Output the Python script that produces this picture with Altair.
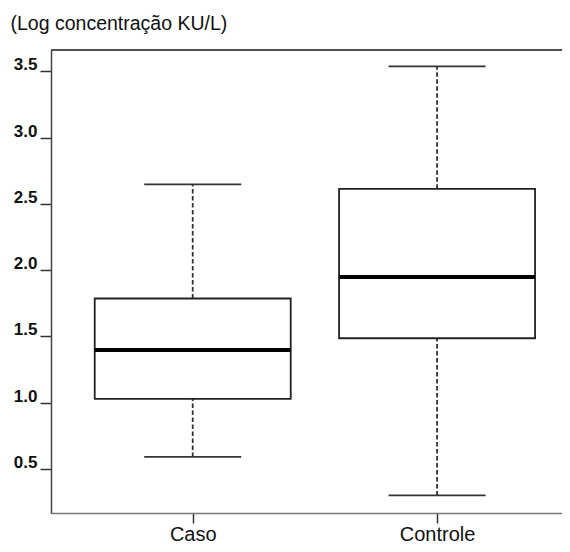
import altair as alt
import pandas as pd

groups = ["Caso", "Controle"]
lower = [0.59, 0.30]
q1 = [1.028, 1.486]
median = [1.398, 1.949]
q3 = [1.786, 2.614]
upper = [2.647, 3.538]
y_ticks = [0.5, 1.0, 1.5, 2.0, 2.5, 3.0, 3.5]

df = pd.DataFrame({"grupo": groups, "lower": lower, "q1": q1,
                   "median": median, "q3": q3, "upper": upper})

W = 519
H = 463

xscale = alt.Scale(type="point", padding=0.562, align=0.516)
xenc = alt.X("grupo:N", scale=xscale, sort=groups,
             axis=alt.Axis(title=None, labelAngle=0, labelFontSize=20,
                           labelFont="Liberation Sans", labelColor="#111",
                           tickSize=10, tickColor="#333", tickWidth=1.5,
                           domainColor="#777", domainWidth=1.5,
                           labelPadding=1.5, grid=False))
yscale = alt.Scale(domain=[0.167, 3.662], nice=False, zero=False)
yaxis = alt.Axis(values=y_ticks, format=".1f", grid=False,
                 title="(Log concentração KU/L)", titleAngle=0,
                 titleAlign="left", titleBaseline="alphabetic",
                 titleX=-41, titleY=-21, titleFontSize=19.5,
                 titleFont="Liberation Sans", titleFontWeight="normal",
                 titleColor="#111",
                 labelFontSize=17, labelFont="Liberation Sans",
                 labelFontWeight="bold", labelColor="#111",
                 labelBaseline="alphabetic", labelOffset=-1.5,
                 labelPadding=3, tickSize=11, tickColor="#333",
                 tickWidth=1.5, domainColor="#444", domainWidth=1.5)

base = alt.Chart(df)

top_line = base.mark_rule(color="#444", strokeWidth=1.5).encode(
    y=alt.value(0), x=alt.value(0), x2=alt.value(W))

whisk_hi = base.mark_rule(color="#333", strokeWidth=1.8, strokeDash=[4.5, 2.5]).encode(
    x=xenc, y=alt.Y("q3:Q", scale=yscale, axis=yaxis), y2="upper:Q")
whisk_lo = base.mark_rule(color="#333", strokeWidth=1.8, strokeDash=[4.5, 2.5]).encode(
    x=xenc, y=alt.Y("lower:Q", scale=yscale, axis=yaxis), y2="q1:Q")

box = base.mark_bar(size=196, fill="white", stroke="#222", strokeWidth=1.8).encode(
    x=xenc, y=alt.Y("q1:Q", scale=yscale, axis=yaxis), y2="q3:Q")

med = base.mark_tick(size=196, thickness=4, color="#000", opacity=1).encode(
    x=xenc, y=alt.Y("median:Q", scale=yscale, axis=yaxis))
cap_hi = base.mark_tick(size=97, thickness=1.8, color="#333", opacity=1).encode(
    x=xenc, y=alt.Y("upper:Q", scale=yscale, axis=yaxis))
cap_lo = base.mark_tick(size=97, thickness=1.8, color="#333", opacity=1).encode(
    x=xenc, y=alt.Y("lower:Q", scale=yscale, axis=yaxis))

chart = alt.layer(whisk_hi, whisk_lo, box, med, cap_hi, cap_lo, top_line).properties(
    width=W, height=H,
    padding={"left": 2, "top": 5, "right": -9, "bottom": 0}
).configure_view(stroke=None).configure(background="white")

chart.save("out.html", embed_options={"renderer": "svg", "actions": False})
